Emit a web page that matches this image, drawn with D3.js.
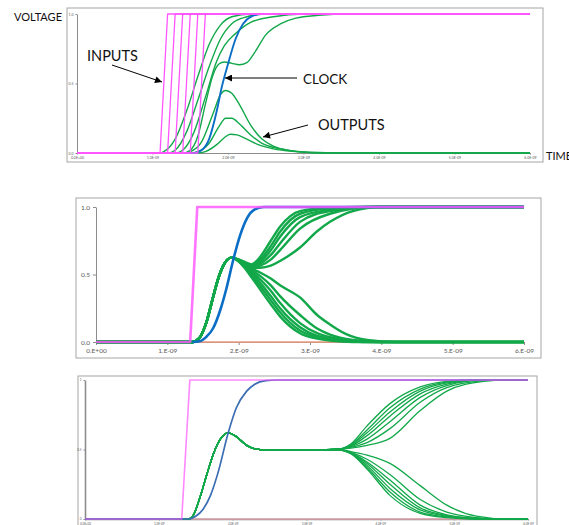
<!DOCTYPE html>
<html>
<head>
<meta charset="utf-8">
<script src="https://cdn.jsdelivr.net/npm/d3@7"></script>
<style>
  body { margin: 0; background: #fff; }
</style>
</head>
<body>
<script>
// time in ns, voltage 0..1

// ---- top panel
const p1XLabels = ["0.0E+00", "1.0E-09", "2.0E-09", "3.0E-09", "4.0E-09", "5.0E-09", "6.0E-09"];
const p1YLabels = ["0.0", "0.5", "1.0"];

const p1Inputs = [
  [[0, 0], [1.1, 0], [1.2, 1], [6, 1]],
  [[0, 0], [1.2, 0], [1.3, 1], [6, 1]],
  [[0, 0], [1.3, 0], [1.4, 1], [6, 1]],
  [[0, 0], [1.4, 0], [1.5, 1], [6, 1]],
  [[0, 0], [1.5, 0], [1.6, 1], [6, 1]],
  [[0, 0], [1.6, 0], [1.7, 1], [6, 1]]
];

const p1Clock = [[0, 0], [1.55, 0], [1.65, 0.02], [1.75, 0.1], [1.85, 0.3], [1.92, 0.48], [2.0, 0.64],
  [2.1, 0.82], [2.2, 0.93], [2.3, 0.98], [2.45, 1], [6, 1]];

const p1Outputs = [
  [[0, 0], [1.1, 0], [1.15, 0.01], [1.3, 0.1], [1.45, 0.3], [1.6, 0.55], [1.75, 0.78], [1.9, 0.92], [2.05, 0.98], [2.3, 1], [6, 1]],
  [[0, 0], [1.2, 0], [1.3, 0.02], [1.45, 0.15], [1.6, 0.38], [1.75, 0.62], [1.9, 0.82], [2.05, 0.93], [2.25, 0.98], [2.5, 1], [6, 1]],
  [[0, 0], [1.3, 0], [1.4, 0.02], [1.55, 0.15], [1.7, 0.4], [1.85, 0.66], [1.95, 0.77], [2.1, 0.86], [2.3, 0.94], [2.6, 0.98], [3, 1], [6, 1]],
  [[0, 0], [1.4, 0], [1.5, 0.02], [1.6, 0.12], [1.7, 0.35], [1.8, 0.56], [1.88, 0.64], [1.95, 0.655], [2.05, 0.645], [2.15, 0.635],
    [2.25, 0.65], [2.35, 0.72], [2.5, 0.85], [2.7, 0.93], [2.9, 0.97], [3.2, 0.99], [3.6, 1], [6, 1]],
  [[0, 0], [1.4, 0], [1.5, 0.01], [1.65, 0.08], [1.8, 0.28], [1.9, 0.42], [1.97, 0.45], [2.05, 0.43], [2.15, 0.35], [2.3, 0.2],
    [2.45, 0.1], [2.6, 0.05], [2.8, 0.02], [3.1, 0.005], [3.5, 0], [6, 0]],
  [[0, 0], [1.5, 0], [1.6, 0.01], [1.75, 0.07], [1.88, 0.19], [1.97, 0.25], [2.05, 0.25], [2.15, 0.21], [2.3, 0.13], [2.45, 0.07],
    [2.6, 0.04], [2.85, 0.015], [3.2, 0], [6, 0]],
  [[0, 0], [1.6, 0], [1.7, 0.01], [1.85, 0.06], [1.95, 0.11], [2.03, 0.135], [2.12, 0.13], [2.25, 0.1], [2.4, 0.06], [2.6, 0.03],
    [2.9, 0.01], [3.3, 0], [6, 0]]
];

// ---- middle panel
const p2XLabels = ["0.E+00", "1.E-09", "2.E-09", "3.E-09", "4.E-09", "5.E-09", "6.E-09"];
const p2YLabels = ["0.0", "0.5", "1.0"];

const p2Input = [[0, 0], [1.32, 0], [1.42, 1], [6, 1]];
const p2Ground = [[1.32, 0], [6, 0]];
const p2Clock = [[1.35, 0], [1.45, 0.005], [1.55, 0.04], [1.64, 0.1], [1.75, 0.25], [1.83, 0.4], [1.92, 0.6], [2.02, 0.79],
  [2.12, 0.92], [2.22, 0.98], [2.35, 1], [6, 1]];
const p2Rise = [[0, 0], [1.35, 0], [1.45, 0.03], [1.55, 0.15], [1.64, 0.33], [1.72, 0.48], [1.8, 0.58], [1.9, 0.625]];
const p2Tails = [
  [[2.05, 0.6], [2.18, 0.575], [2.3, 0.63], [2.45, 0.75], [2.58, 0.854], [2.86, 0.97], [3.28, 0.995], [3.7, 1], [6, 1]],
  [[2.05, 0.598], [2.18, 0.57], [2.3, 0.61], [2.45, 0.71], [2.58, 0.817], [2.86, 0.95], [3.28, 0.99], [3.8, 1], [6, 1]],
  [[2.05, 0.596], [2.18, 0.565], [2.3, 0.595], [2.45, 0.68], [2.58, 0.78], [2.86, 0.925], [3.28, 0.98], [3.8, 1], [6, 1]],
  [[2.05, 0.594], [2.18, 0.56], [2.3, 0.58], [2.45, 0.645], [2.58, 0.73], [2.86, 0.89], [3.28, 0.97], [3.9, 1], [6, 1]],
  [[2.05, 0.592], [2.18, 0.555], [2.3, 0.565], [2.45, 0.61], [2.58, 0.68], [2.86, 0.84], [3.28, 0.95], [3.9, 1], [6, 1]],
  [[2.05, 0.59], [2.18, 0.55], [2.3, 0.55], [2.45, 0.565], [2.58, 0.6], [2.86, 0.7], [3.1, 0.82], [3.28, 0.89], [3.6, 0.97], [4.0, 1], [6, 1]],
  [[2.05, 0.585], [2.18, 0.545], [2.3, 0.515], [2.45, 0.47], [2.58, 0.42], [2.86, 0.33], [3.1, 0.2], [3.28, 0.13], [3.5, 0.06], [3.8, 0.015], [4.2, 0], [6, 0]],
  [[2.05, 0.582], [2.18, 0.535], [2.3, 0.49], [2.45, 0.42], [2.58, 0.34], [2.86, 0.2], [3.1, 0.1], [3.28, 0.055], [3.6, 0.015], [4.0, 0], [6, 0]],
  [[2.05, 0.579], [2.18, 0.525], [2.3, 0.465], [2.45, 0.38], [2.58, 0.29], [2.86, 0.14], [3.1, 0.065], [3.28, 0.035], [3.6, 0.01], [4.0, 0], [6, 0]],
  [[2.05, 0.576], [2.18, 0.51], [2.3, 0.44], [2.45, 0.34], [2.58, 0.25], [2.86, 0.11], [3.1, 0.045], [3.28, 0.025], [3.6, 0.005], [3.9, 0], [6, 0]],
  [[2.05, 0.573], [2.18, 0.495], [2.3, 0.415], [2.45, 0.31], [2.58, 0.22], [2.86, 0.085], [3.1, 0.035], [3.28, 0.018], [3.6, 0.004], [3.9, 0], [6, 0]],
  [[2.05, 0.57], [2.18, 0.48], [2.3, 0.39], [2.45, 0.28], [2.58, 0.19], [2.86, 0.065], [3.1, 0.025], [3.28, 0.01], [3.6, 0], [6, 0]]
];

// ---- bottom panel
const p3XLabels = ["0.0E+00", "1.0E-09", "2.0E-09", "3.0E-09", "4.0E-09", "5.0E-09", "6.0E-09"];
const p3YLabels = ["0", "0.5", "1"];

const p3Input = [[0, 0], [1.31, 0], [1.42, 1], [6, 1]];
const p3Ground = [[1.31, 0], [6, 0]];
const p3Clock = [[0, 0], [1.4, 0], [1.5, 0.02], [1.6, 0.07], [1.7, 0.17], [1.8, 0.33], [1.94, 0.62], [2.05, 0.8], [2.19, 0.92],
  [2.3, 0.97], [2.45, 0.995], [2.6, 1], [6, 1]];
const p3Rise = [[0, 0], [1.4, 0], [1.47, 0.03], [1.56, 0.16], [1.65, 0.32], [1.74, 0.47], [1.84, 0.58], [1.94, 0.62], [2.03, 0.6],
  [2.19, 0.53], [2.3, 0.505], [2.45, 0.497], [3.0, 0.496], [3.4, 0.5]];
const p3Tails = [
  [[3.6, 0.54], [3.82, 0.67], [4.13, 0.83], [4.54, 0.95], [4.9, 0.99], [5.3, 1], [6, 1]],
  [[3.6, 0.535], [3.82, 0.64], [4.13, 0.8], [4.54, 0.935], [4.9, 0.985], [5.3, 1], [6, 1]],
  [[3.6, 0.53], [3.82, 0.62], [4.13, 0.77], [4.54, 0.92], [4.9, 0.98], [5.35, 1], [6, 1]],
  [[3.6, 0.525], [3.82, 0.6], [4.13, 0.74], [4.54, 0.9], [4.9, 0.97], [5.35, 1], [6, 1]],
  [[3.6, 0.52], [3.82, 0.575], [4.13, 0.7], [4.54, 0.875], [4.9, 0.96], [5.4, 1], [6, 1]],
  [[3.6, 0.515], [3.82, 0.55], [4.13, 0.65], [4.54, 0.84], [4.9, 0.945], [5.4, 0.995], [5.6, 1], [6, 1]],
  [[3.6, 0.51], [3.82, 0.53], [4.13, 0.58], [4.54, 0.78], [4.9, 0.92], [5.4, 0.99], [5.7, 1], [6, 1]],
  [[3.6, 0.485], [3.82, 0.46], [4.13, 0.4], [4.54, 0.24], [4.9, 0.1], [5.3, 0.02], [5.7, 0], [6, 0]],
  [[3.6, 0.48], [3.82, 0.43], [4.13, 0.32], [4.54, 0.14], [4.9, 0.05], [5.3, 0.01], [5.6, 0], [6, 0]],
  [[3.6, 0.478], [3.82, 0.41], [4.13, 0.28], [4.54, 0.1], [4.9, 0.03], [5.3, 0.005], [5.6, 0], [6, 0]],
  [[3.6, 0.476], [3.82, 0.4], [4.13, 0.25], [4.54, 0.08], [4.9, 0.025], [5.3, 0.005], [5.6, 0], [6, 0]],
  [[3.6, 0.474], [3.82, 0.385], [4.13, 0.22], [4.54, 0.065], [4.9, 0.02], [5.3, 0], [6, 0]],
  [[3.6, 0.472], [3.82, 0.37], [4.13, 0.195], [4.54, 0.05], [4.9, 0.015], [5.3, 0], [6, 0]],
  [[3.6, 0.47], [3.82, 0.36], [4.13, 0.17], [4.54, 0.04], [4.9, 0.01], [5.3, 0], [6, 0]]
];

const svg = d3.select("body").append("svg")
  .attr("width", 569)
  .attr("height", 525);

const GREEN = "#12a84a", BLUE = "#0b6ec6", PINK = "#ff55ff";

function drawPanel(p) {
  const g = svg.append("g");

  g.append("rect")
    .attr("x", p.box[0]).attr("y", p.box[1])
    .attr("width", p.box[2] - p.box[0]).attr("height", p.box[3] - p.box[1])
    .attr("fill", "#fff").attr("stroke", "#a6a6a6");

  const x = d3.scaleLinear().domain([0, 6]).range([p.plot[0], p.plot[1]]);
  const y = d3.scaleLinear().domain([0, 1]).range([p.plot[3], p.plot[2]]);

  const xAxis = g.append("g")
    .attr("transform", `translate(0,${p.plot[3]})`)
    .call(d3.axisBottom(x).tickValues(d3.range(7)).tickFormat((d, i) => p.xLabels[i])
      .tickSize(p.tick).tickSizeOuter(0).tickPadding(p.pad));
  const yAxis = g.append("g")
    .attr("transform", `translate(${p.plot[0]},0)`)
    .call(d3.axisLeft(y).tickValues([0, 0.5, 1]).tickFormat((d, i) => p.yLabels[i])
      .tickSize(p.tick).tickSizeOuter(0).tickPadding(p.pad));

  [xAxis, yAxis].forEach(a => {
    a.select(".domain").attr("stroke", "#8c8c8c").attr("stroke-width", p.axisW);
    a.selectAll(".tick line").attr("stroke", "#8c8c8c");
    a.selectAll("text")
      .attr("fill", "#595959")
      .style("font-family", "Lato, 'Liberation Sans', sans-serif")
      .style("font-size", p.fontSize + "px");
  });

  p.layers.forEach(layer => {
    const line = d3.line()
      .x(d => x(d[0]))
      .y(d => y(d[1]))
      .curve(layer.linear ? d3.curveLinear : d3.curveMonotoneX);
    g.append("g").selectAll("path")
      .data(layer.series)
      .enter().append("path")
      .attr("d", line)
      .attr("fill", "none")
      .attr("stroke", layer.color)
      .attr("stroke-width", layer.width)
      .attr("stroke-opacity", layer.opacity || 1)
      .attr("stroke-linejoin", "round");
  });
}

drawPanel({
  box: [67, 8, 543, 162],
  plot: [77, 530, 14, 153],
  xLabels: p1XLabels, yLabels: p1YLabels,
  tick: 1.5, pad: 2, fontSize: 3.5, axisW: 1,
  layers: [
    { series: p1Outputs, color: GREEN, width: 1.4 },
    { series: [p1Clock], color: BLUE, width: 1.9 },
    { series: p1Inputs, color: PINK, width: 1.3, linear: true }
  ]
});

drawPanel({
  box: [76, 198, 541, 358],
  plot: [96, 524, 207, 342],
  xLabels: p2XLabels, yLabels: p2YLabels,
  tick: 3, pad: 3, fontSize: 6.5, axisW: 1,
  layers: [
    { series: [p2Ground], color: "#ee9a7c", width: 1.6 },
    { series: p2Tails.map(t => p2Rise.concat(t)), color: GREEN, width: 2.4 },
    { series: [p2Clock], color: BLUE, width: 2.6 },
    { series: [p2Input], color: PINK, width: 2.6, opacity: 0.82, linear: true }
  ]
});

drawPanel({
  box: [78, 376, 537, 527],
  plot: [85, 528, 380, 519],
  xLabels: p3XLabels, yLabels: p3YLabels,
  tick: 1.5, pad: 2, fontSize: 3, axisW: 1.6,
  layers: [
    { series: [p3Ground], color: "#d9a0a8", width: 1.4 },
    { series: p3Tails.map(t => p3Rise.concat(t)), color: GREEN, width: 1.3 },
    { series: [p3Clock], color: "#3a6db3", width: 1.7 },
    { series: [p3Input], color: PINK, width: 1.6, opacity: 0.7, linear: true }
  ]
});

// annotations on the top panel
const defs = svg.append("defs");
defs.append("marker")
  .attr("id", "arrow")
  .attr("viewBox", "0 0 10 10")
  .attr("refX", 10).attr("refY", 5)
  .attr("markerWidth", 9).attr("markerHeight", 7)
  .attr("markerUnits", "userSpaceOnUse")
  .attr("orient", "auto")
  .append("path").attr("d", "M0,0L10,5L0,10Z").attr("fill", "#000");

const labels = [
  { text: "VOLTAGE", x: 14, y: 21, size: 11 },
  { text: "INPUTS", x: 87, y: 61, size: 14.5 },
  { text: "CLOCK", x: 303, y: 84, size: 13.5 },
  { text: "OUTPUTS", x: 318, y: 130, size: 14.5 },
  { text: "TIME", x: 546, y: 160, size: 11 }
];
svg.selectAll("text.note")
  .data(labels)
  .enter().append("text")
  .attr("class", "note")
  .attr("x", d => d.x)
  .attr("y", d => d.y)
  .attr("fill", "#111")
  .style("font-family", "Lato, 'Liberation Sans', sans-serif")
  .style("font-size", d => d.size + "px")
  .text(d => d.text);

const arrows = [
  [112, 65, 162, 82],
  [297, 78, 225, 78],
  [308, 125, 263, 137]
];
svg.selectAll("line.arrow")
  .data(arrows)
  .enter().append("line")
  .attr("class", "arrow")
  .attr("x1", d => d[0]).attr("y1", d => d[1])
  .attr("x2", d => d[2]).attr("y2", d => d[3])
  .attr("stroke", "#000")
  .attr("stroke-width", 1)
  .attr("marker-end", "url(#arrow)");
</script>
</body>
</html>
